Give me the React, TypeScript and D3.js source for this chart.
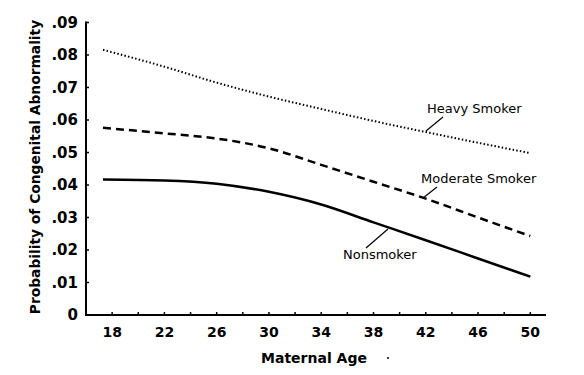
import React from "react";
import * as d3 from "d3";

const ages = [17.3, 22, 26, 30, 34, 38, 42, 46, 50];
const heavySmoker = [0.0816, 0.0764, 0.0715, 0.0672, 0.0634, 0.0597, 0.0563, 0.053, 0.0498];
const moderateSmoker = [0.0576, 0.0559, 0.0543, 0.0513, 0.0462, 0.041, 0.0358, 0.03, 0.0243];
const nonsmoker = [0.0417, 0.0414, 0.0404, 0.0379, 0.034, 0.0285, 0.023, 0.0174, 0.0118];
const xTickLabels = [18, 22, 26, 30, 34, 38, 42, 46, 50];
const xMinorTicks = [18, 20, 22, 24, 26, 28, 30, 32, 34, 36, 38, 40, 42, 44, 46, 48, 50];
const yTicks = [0, 0.01, 0.02, 0.03, 0.04, 0.05, 0.06, 0.07, 0.08, 0.09];

const W = 584, H = 375;
const FONT = "'DejaVu Sans', sans-serif";

export default function App() {
  const x = d3.scaleLinear().domain([16, 51.2]).range([86, 546]);
  const y = d3.scaleLinear().domain([0, 0.09]).range([315, 22.5]);
  const line = d3
    .line<[number, number]>()
    .x((d) => x(d[0]))
    .y((d) => y(d[1]))
    .curve(d3.curveMonotoneX);
  const mk = (vals: number[]) => line(ages.map((a, i) => [a, vals[i]] as [number, number])) || "";
  const fmtY = (v: number) => (v === 0 ? "0" : d3.format(".2f")(v).replace(/^0/, ""));

  return (
    <svg
      width={W}
      height={H}
      style={{ position: "absolute", left: 0, top: 0, background: "#fff" }}
    >
      <rect width={W} height={H} fill="#fff" />
      {/* axes */}
      <line x1={x(16)} x2={x(16)} y1={y(0.09) - 1} y2={y(0) + 1} stroke="#000" strokeWidth={2} />
      <line x1={x(16) - 1} x2={x(51.2)} y1={y(0)} y2={y(0)} stroke="#000" strokeWidth={2} />
      {yTicks.map((t) => (
        <g key={"y" + t}>
          <line x1={x(16)} x2={x(16) + 3} y1={y(t)} y2={y(t)} stroke="#000" strokeWidth={1.5} />
          <text
            x={x(16) - 8}
            y={y(t) + 5}
            textAnchor="end"
            fontFamily={FONT}
            fontWeight="bold"
            fontSize={15}
          >
            {fmtY(t)}
          </text>
        </g>
      ))}
      {xMinorTicks.map((t) => (
        <line key={"xm" + t} x1={x(t)} x2={x(t)} y1={y(0)} y2={y(0) - 3} stroke="#000" strokeWidth={1.5} />
      ))}
      {xTickLabels.map((t) => (
        <text
          key={"xl" + t}
          x={x(t)}
          y={337}
          textAnchor="middle"
          fontFamily={FONT}
          fontWeight="bold"
          fontSize={14}
        >
          {t}
        </text>
      ))}
      <text
        x={314}
        y={363}
        textAnchor="middle"
        fontFamily={FONT}
        fontWeight="bold"
        fontSize={14}
      >
        Maternal Age
      </text>
      <circle cx={388} cy={358} r={1} fill="#000" />
      <text
        transform={`translate(40, 167) rotate(-90)`}
        textAnchor="middle"
        fontFamily={FONT}
        fontWeight="bold"
        fontSize={13.8}
      >
        Probability of Congenital Abnormality
      </text>

      {/* series */}
      <path d={mk(heavySmoker)} fill="none" stroke="#000" strokeWidth={2} strokeDasharray="1.5 2.2" />
      <path d={mk(moderateSmoker)} fill="none" stroke="#000" strokeWidth={2.5} strokeDasharray="8 5" />
      <path d={mk(nonsmoker)} fill="none" stroke="#000" strokeWidth={2.5} />

      {/* labels */}
      <text x={427} y={113} fontFamily={FONT} fontSize={13}>Heavy Smoker</text>
      <line x1={443} y1={117} x2={426} y2={131} stroke="#000" strokeWidth={1.2} />
      <text x={421} y={183} fontFamily={FONT} fontSize={13}>Moderate Smoker</text>
      <line x1={437} y1={187} x2={423} y2={198} stroke="#000" strokeWidth={1.2} />
      <text x={343} y={259} fontFamily={FONT} fontSize={13}>Nonsmoker</text>
      <line x1={366} y1={248} x2={388} y2={229} stroke="#000" strokeWidth={1.2} />
    </svg>
  );
}
